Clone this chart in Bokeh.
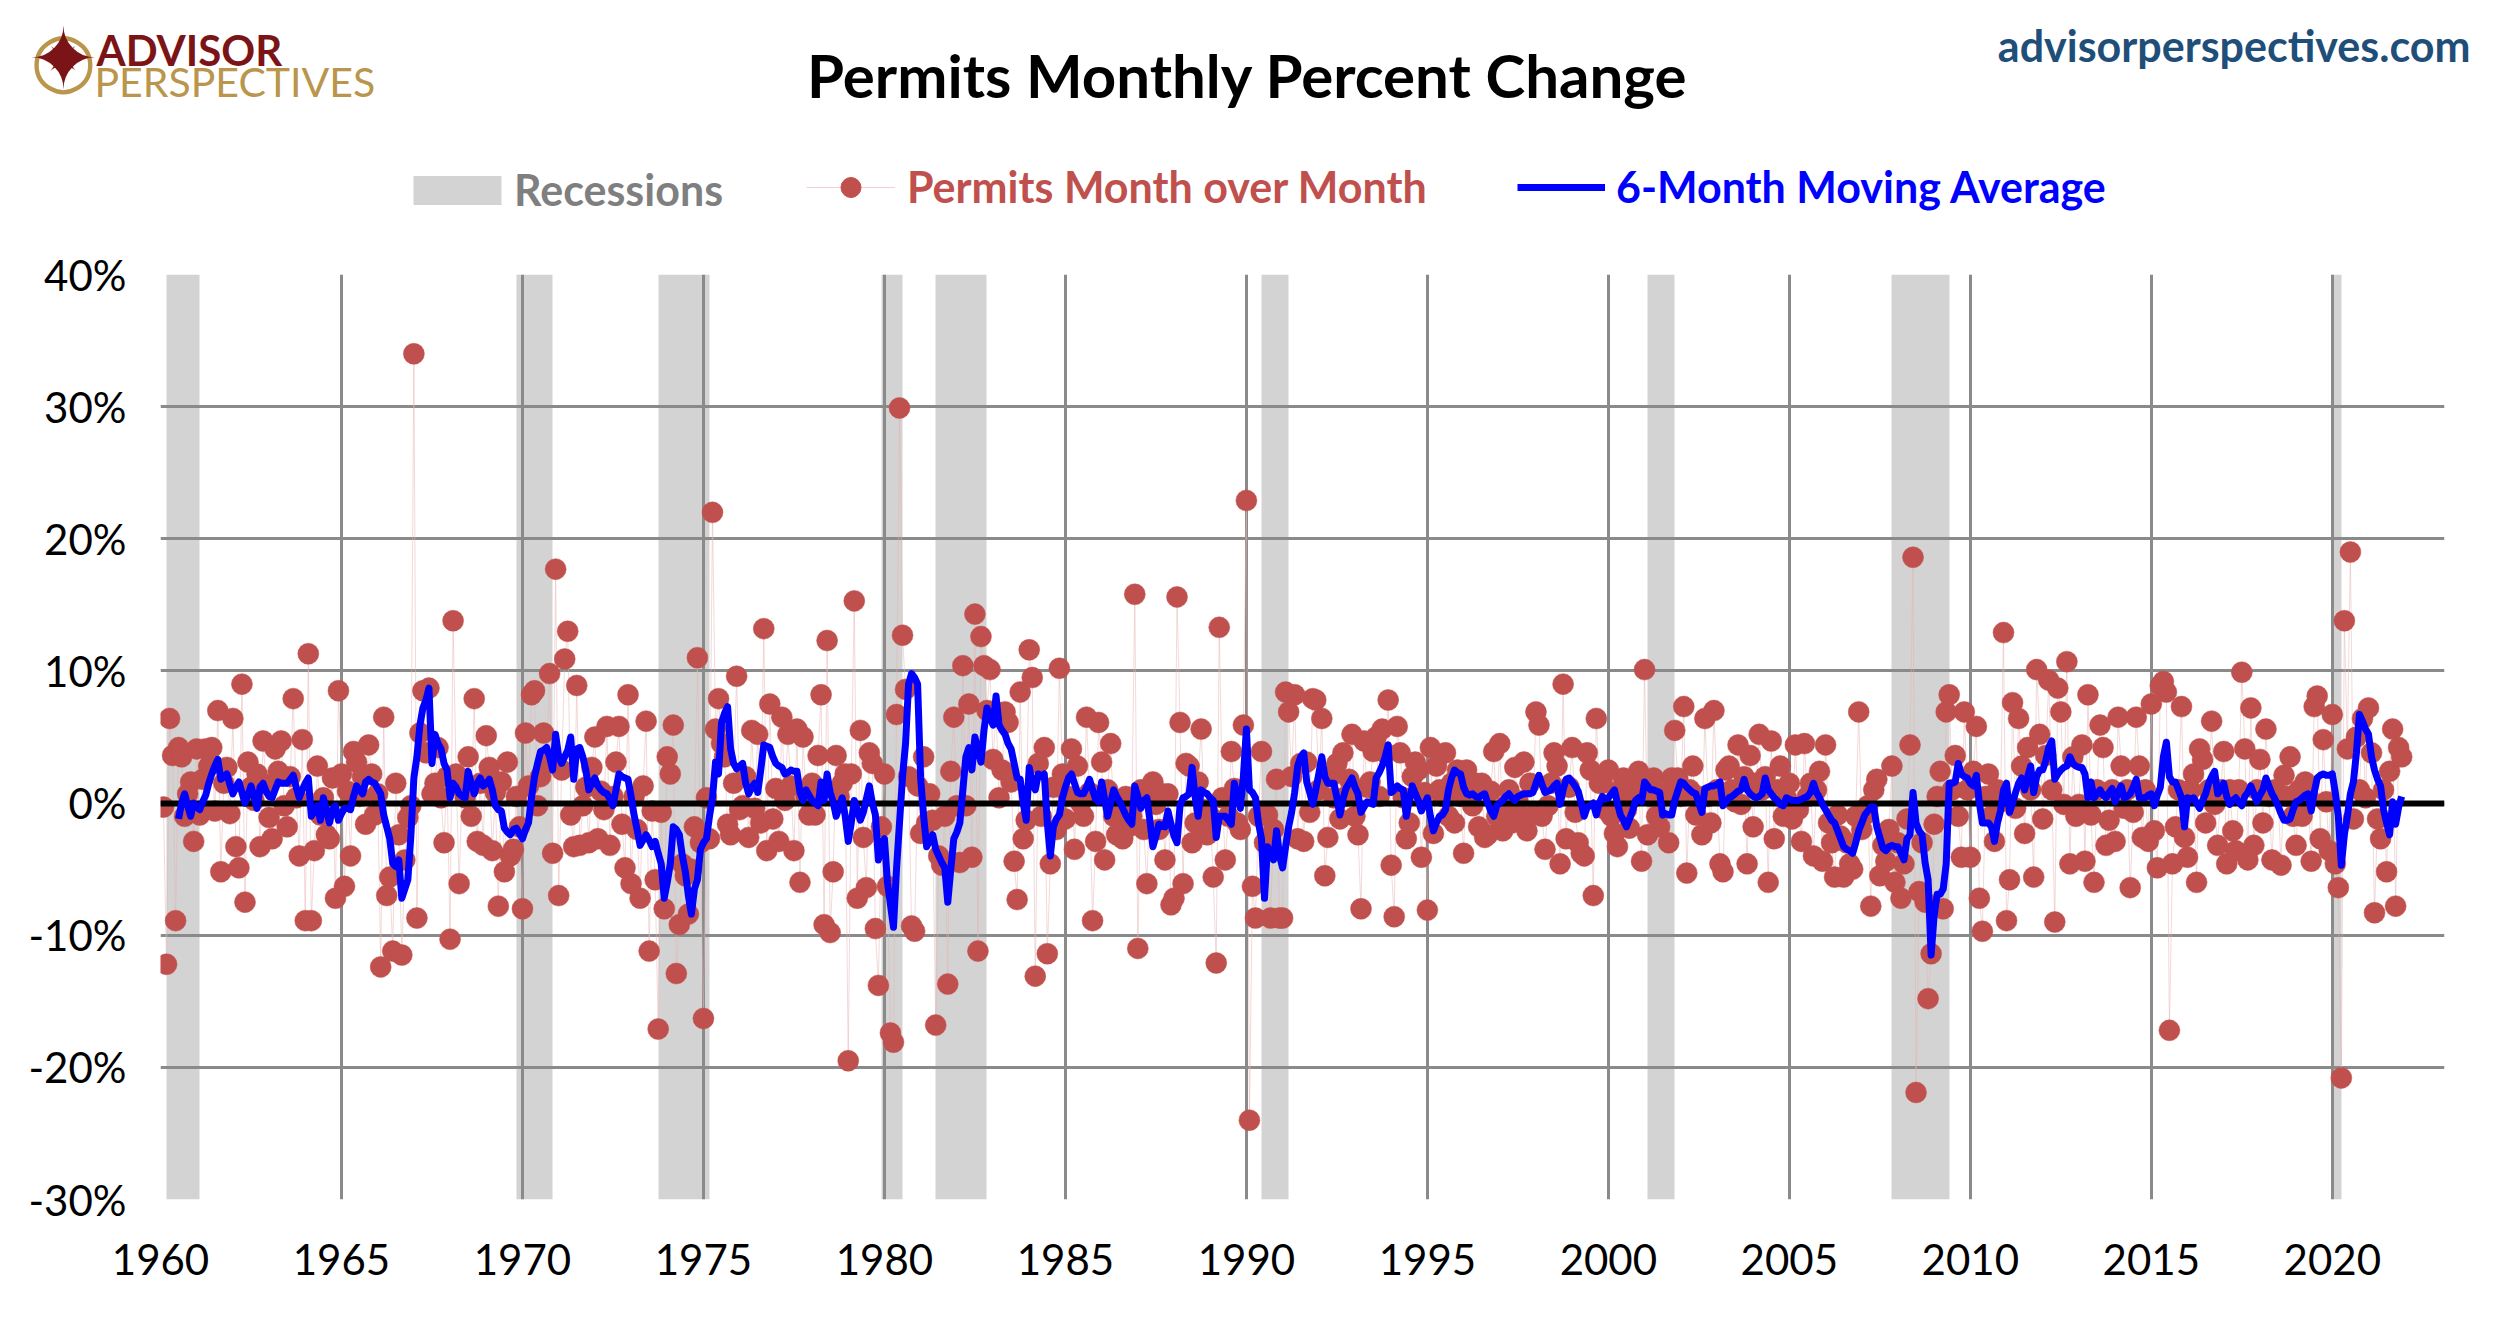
from bokeh.plotting import figure
from bokeh.layouts import column
from bokeh.models import Range1d, FixedTicker, PrintfTickFormatter, Label, Legend, LegendItem
from bokeh.embed import file_html
from bokeh.resources import INLINE

# Permits, month-over-month % change (Feb 1960 - Dec 2021), one row per year
mom_1960s = [
    -0.3, -12.2, 6.4, 3.6, -8.9, 4.2, 3.5, -1.0, 0.7, 1.6, -2.9,      # 1960 (from Feb)
    4.1, -0.9, 1.8, 4.1, 2.8, 4.2, -0.6, 7.0, -5.2, 1.5, 2.7, -0.8,   # 1961
    6.4, -3.3, -4.9, 9.0, -7.5, 3.1, 1.2, 0.2, 2.2, -3.3, 4.7, 1.4,   # 1962
    -1.1, -2.7, 4.1, 2.4, 4.7, -0.2, -1.8, 2.0, 7.9, 0.4, -4.0, 4.8,  # 1963
    -8.9, 11.3, -8.9, -3.6, 2.8, -0.9, 0.4, -2.4, -2.7, 1.9, -7.2, 8.5,  # 1964
    2.2, -6.3, 0.9, -4.0, 3.9, 3.1, 0.5, 2.0, -1.6, 4.4, 2.2, -0.9,   # 1965
    0.7, -12.4, 6.5, -7.0, -5.6, -11.2, 1.5, -2.4, -11.5, -4.3, -1.1, -0.2,  # 1966
    34.0, -8.7, 5.3, 8.5, 3.8, 8.7, 0.7, 1.5, 4.2, 0.4, -3.0, 2.0,    # 1967
    -10.3, 13.8, 2.2, -6.1, 1.1, 0.4, 3.5, -1.0, 7.9, -2.9, 1.5, -3.2,  # 1968
    5.1, 2.7, -3.6, 0.8, -7.8, 1.6, -5.2, 3.1, -4.0, -3.5, 0.5, -1.8,  # 1969
]
mom_1970s = [
    -8.0, 5.3, 1.3, 8.2, 8.5, -0.2, 2.0, 5.3, 3.1, 9.8, -3.8, 17.7,   # 1970
    -7.0, 2.5, 10.9, 13.0, -0.9, -3.3, 8.9, -3.2, -0.2, 1.2, -3.0, 2.7,  # 1971
    5.0, -2.7, 0.9, -0.5, 5.8, -3.2, 0.5, 3.1, 5.8, -1.6, -4.9, 8.2,  # 1972
    -6.1, 0.5, -2.0, -7.2, 1.3, 6.2, -11.2, -0.6, -5.8, -17.1, -0.7, -8.0,  # 1973
    3.5, 2.2, 5.9, -12.9, -9.2, -4.6, -5.5, -8.4, -5.0, -1.8, 11.0, -3.0,  # 1974
    -16.3, 0.4, -2.7, 22.0, 5.6, 7.9, 4.5, 3.5, -1.6, -2.4, 1.5, 9.6,  # 1975
    -0.5, -0.2, 2.0, -2.6, 5.5, -0.4, 5.2, -1.5, 13.2, -3.6, 7.5, -1.2,  # 1976
    1.1, -2.9, 6.5, 0.2, 5.2, 1.3, -3.6, 5.6, -6.0, 5.0, 0.5, -0.9,   # 1977
    1.5, -0.9, 3.6, 8.2, -9.2, 12.3, -9.8, -5.2, 3.6, 0.5, 1.5, 2.2,  # 1978
    -19.5, 2.2, 15.3, -7.2, 5.5, -2.6, -6.4, 3.8, 3.0, -9.5, -13.8, -1.8,  # 1979
]
mom_1980s = [
    2.2, -6.3, -17.4, -18.1, 6.7, 29.9, 12.7, 8.6, 2.0, -9.3, -9.7, 1.3,  # 1980
    -2.3, 3.5, -1.5, 0.7, -1.3, -16.8, -4.0, -4.7, -1.0, -13.7, 2.4, 6.5,  # 1981
    -0.2, -4.5, 10.4, -0.2, 7.5, -4.1, 14.3, -11.2, 12.6, 10.4, 7.0, 10.1,  # 1982
    3.3, 6.9, 0.4, 2.5, 6.9, 6.1, 1.6, -4.4, -7.3, 8.4, -2.7, -1.3,   # 1983
    11.6, 9.5, -13.1, 3.0, -1.0, 4.2, -11.4, -4.6, 1.2, -2.0, 10.2, 2.2,  # 1984
    -1.2, 0.5, 4.1, -3.5, 2.8, 0.0, -1.0, 6.5, 0.8, -8.9, -2.9, 6.1,  # 1985
    3.1, -4.3, 1.0, 4.5, -1.0, -2.4, -0.4, -2.7, 0.5, -1.8, -1.0, 15.8,  # 1986
    -11.0, 1.0, -2.0, -6.1, 0.5, 1.6, -0.1, -2.0, 0.7, -4.3, 0.7, -7.7,  # 1987
    -7.2, 15.6, 6.1, -6.1, 3.0, 2.8, -3.0, -1.5, 1.6, 5.6, -0.5, -2.4,  # 1988
    -1.0, -5.6, -12.1, 13.3, 0.4, -4.3, -1.0, 3.9, 1.1, -1.5, -2.0, 5.9,  # 1989
]
mom_1990s = [
    22.9, -24.0, -6.3, -8.7, -1.0, 3.9, -3.0, -0.9, -8.7, -2.0, 1.8, -8.7,  # 1990
    -8.7, 8.4, 6.9, 2.0, 8.2, -2.7, 3.0, -2.9, 3.1, -0.7, 7.9, 7.8,   # 1991
    1.0, 6.4, -5.5, -2.6, 2.0, 0.4, 3.0, -1.2, 3.8, 0.5, 1.8, 5.2,    # 1992
    -1.0, -2.4, -8.0, 4.7, 1.2, 1.6, 3.9, 5.0, 0.5, 5.6, 3.8, 7.8,    # 1993
    -4.7, -8.6, 5.8, 3.8, 0.4, -2.7, -1.5, 2.0, 3.1, 2.5, -4.1, 0.8,  # 1994
    -8.1, 4.2, -2.3, 2.8, 1.0, 0.5, 3.8, -1.0, 1.5, -1.5, 2.5, 0.5,   # 1995
    -3.8, 2.5, 1.1, -0.2, 1.5, -1.8, 1.5, -2.6, -2.4, 0.9, 3.9, -1.0,  # 1996
    4.5, -2.1, -0.2, 1.0, -1.5, 2.7, 0.2, -1.0, 3.1, -2.1, 1.5, -0.9,  # 1997
    6.9, 5.9, -1.0, -3.5, -0.2, 1.5, 3.8, 2.8, -4.6, 9.0, -2.7, 1.2,  # 1998
    4.2, -0.7, -3.0, -3.8, -4.0, 3.8, 2.5, -7.0, 6.4, 1.5, 1.5, -0.5,  # 1999
]
mom_2000s = [
    2.5, -1.0, -2.3, -3.3, 1.0, 1.9, -0.5, -1.9, 0.4, 1.0, 2.4, -4.4,  # 2000
    10.1, -2.4, 0.5, 1.9, -1.0, -1.8, 0.5, 0.7, -3.0, 1.9, 5.5, 1.9,   # 2001
    0.5, 7.3, -5.3, 1.0, 2.8, -0.9, 0.5, -2.4, 6.4, 0.5, -1.5, 7.0,    # 2002
    1.0, -4.6, -5.2, 2.5, 2.8, 1.0, 0.1, 4.4, -0.1, 2.0, -4.6, 3.6,    # 2003
    -1.8, 1.5, 5.2, 1.0, 2.0, -6.0, 4.7, -2.7, 1.0, 2.8, -1.0, 0.4,    # 2004
    1.5, -1.2, 4.4, -0.5, -2.9, 4.5, 0.5, 1.5, -4.0, 1.0, 2.4, -4.4,   # 2005
    4.4, -1.5, -3.0, -5.6, -0.9, -2.5, -5.6, -3.0, -4.6, -5.0, -1.0, 6.9,  # 2006
    -2.0, -0.9, -0.2, -7.8, 1.0, 1.8, -5.5, -3.2, -4.4, -2.0, 2.8, -6.0,  # 2007
    -3.0, -7.2, -4.6, -1.2, 4.4, 18.6, -21.9, -6.7, -3.0, -7.5, -14.8, -11.4,  # 2008
    -1.6, 0.5, 2.4, -8.0, 6.9, 8.2, 1.0, 3.6, -1.0, -4.1, 6.9, 1.0,    # 2009
]
mom_2010s = [
    -4.1, 2.4, 5.8, -7.2, -9.7, 0.5, 2.2, -1.0, -2.9, 1.0, 0.1, 12.9,  # 2010
    -8.9, -5.8, 7.6, -0.4, 6.4, 2.8, -2.3, 4.2, 1.0, -5.6, 10.1, 5.2,  # 2011
    -1.2, 3.6, 9.3, 1.0, -9.0, 8.7, 6.9, -0.1, 10.7, -4.6, 3.5, -1.0,  # 2012
    -0.1, 4.4, -4.4, 8.2, -0.9, -6.0, 1.0, 5.9, 4.2, -3.2, -1.3, 1.0,  # 2013
    -2.9, 6.5, 2.8, -0.4, 1.0, -6.4, -0.7, 6.5, 2.8, -2.6, 1.0, -2.9,  # 2014
    7.5, -2.1, -4.9, 8.9, 9.2, 8.4, -17.2, -4.6, -1.8, 1.0, 7.3, -2.6,  # 2015
    -4.1, 1.0, 2.2, -6.0, 4.1, 3.3, -1.5, 1.0, 6.2, -0.1, -3.2, 1.0,   # 2016
    3.9, -4.6, 1.0, -2.1, -3.6, 1.0, 9.9, 4.1, -4.3, 7.2, -3.2, 1.0,   # 2017
    3.3, -1.5, 5.6, 0.5, -4.3, 1.0, 0.7, -4.7, 2.1, 0.5, 3.5, -1.0,    # 2018
    -3.2, 1.0, -1.0, 1.6, 0.5, -4.4, 7.3, 8.1, -2.7, 4.8, 0.1, -3.6,   # 2019
]
mom_2020s = [
    6.7, -4.6, -6.4, -20.8, 13.8, 4.1, 19.0, -1.2, 5.0, 1.0, 6.4, 0.4,  # 2020
    7.2, 3.8, -8.3, -1.2, -2.7, 1.0, -5.2, 2.4, 5.6, -7.8, 4.2, 3.5,    # 2021
]

# 6-month moving average (Jul 1960 - Dec 2021), one row per year
ma_1960s = [
    -1.2, 0.0, 0.7, -0.2, -1.0, 0.0,                                   # 1960 (from Jul)
    -0.3, -0.5, 0.1, 0.6, 1.5, 2.2, 2.8, 3.3, 1.8, 2.0, 2.2, 1.4,      # 1961
    0.7, 1.2, 1.6, 0.8, 0.0, 0.6, 1.3, 0.5, -0.4, 1.2, 1.5, 0.9,       # 1962
    0.5, 0.4, 1.0, 1.6, 1.5, 1.5, 1.5, 1.8, 2.1, 1.2, 0.4, 1.0,        # 1963
    1.5, 1.9, -1.0, -0.6, -0.2, -1.3, 0.4, -0.5, -1.5, -0.5, -0.2, -1.3,  # 1964
    -0.8, -0.4, -0.4, -0.5, 0.5, 1.3, 1.0, 0.7, 1.6, 1.8, 1.6, 1.5,    # 1965
    1.1, 0.7, -0.9, -1.8, -2.7, -4.6, -4.8, -4.3, -7.2, -6.5, -5.8, -2.5,  # 1966
    1.9, 3.5, 5.9, 7.2, 7.8, 8.7, 3.0, 5.2, 4.5, 4.1, 3.0, 2.5,        # 1967
    0.4, 1.5, 1.2, 0.7, 0.5, 0.4, 2.4, 1.5, 0.7, 1.5, 1.9, 1.3,        # 1968
    1.5, 1.8, 1.0, -0.2, -0.5, -0.6, -1.9, -2.2, -2.4, -2.0, -1.9, -2.3,  # 1969
]
ma_1970s = [
    -2.7, -2.0, -1.5, 0.4, 2.0, 3.0, 3.9, 4.0, 4.2, 3.5, 2.5, 5.2,     # 1970
    3.5, 3.0, 3.5, 4.0, 5.0, 1.8, 4.1, 4.2, 3.5, 2.5, 1.0, 1.5,        # 1971
    1.9, 1.3, 1.0, 0.8, 0.7, 0.3, -0.2, 1.0, 2.2, 2.0, 1.9, 1.8,       # 1972
    0.5, -0.9, -2.0, -3.2, -2.8, -2.4, -2.8, -3.3, -2.9, -3.8, -4.6, -7.2,  # 1973
    -6.0, -4.6, -1.8, -2.0, -2.4, -4.0, -5.2, -7.0, -8.4, -6.5, -5.8, -3.5,  # 1974
    -3.0, -2.7, -1.0, 0.4, 3.1, 2.2, 6.1, 6.8, 7.3, 4.1, 3.0, 2.6,     # 1975
    2.8, 3.0, 1.5, 0.7, 1.2, 1.5, 0.8, 2.5, 4.4, 4.3, 4.2, 3.5,        # 1976
    3.0, 2.8, 2.7, 2.2, 2.3, 2.5, 2.4, 2.4, 0.8, 0.2, 1.0, 0.6,        # 1977
    0.2, 0.0, -0.2, 1.6, 0.2, 2.2, 0.8, 0.1, -1.0, -0.3, 0.4, -1.0,    # 1978
    -2.9, -1.5, 0.2, -0.5, -1.3, -0.7, 0.3, 1.3, 0.0, -0.9, -4.3, -3.0,  # 1979
]
ma_1980s = [
    -2.7, -6.0, -7.7, -9.4, -5.0, -1.5, 2.0, 4.5, 9.0, 9.8, 9.5, 9.0,  # 1980
    1.9, -1.0, -3.3, -2.8, -2.4, -3.5, -4.0, -4.5, -4.9, -7.5, -5.0, -2.7,  # 1981
    -2.2, -1.5, 1.0, 3.5, 4.2, 2.5, 5.0, 4.0, 3.1, 5.5, 7.2, 6.5,      # 1982
    5.9, 8.1, 5.9, 5.5, 5.2, 4.5, 4.1, 3.0, 1.9, 1.8, 0.0, -1.3,       # 1983
    2.7, 1.5, 1.0, 2.2, 2.0, 2.2, -1.5, -4.0, -1.8, -1.2, -0.9, 0.4,   # 1984
    1.2, 1.9, 2.2, 1.5, 0.8, 0.7, 0.7, 1.2, 1.8, 1.0, 0.3, 0.1,        # 1985
    1.6, 0.3, -1.0, 0.0, 1.0, 0.5, 0.1, -0.4, -0.9, -1.3, -1.6, 1.3,   # 1986
    0.5, -0.4, 0.2, 0.4, -1.3, -3.3, -2.5, -1.6, -1.7, -1.8, -0.6, -1.6,  # 1987
    -2.5, -3.0, -0.2, 0.4, 0.5, 0.7, 2.7, 0.5, -1.0, 1.0, 0.8, 0.7,    # 1988
    0.4, 0.2, -2.6, -1.0, -1.0, -1.0, -1.3, -1.6, 1.5, 0.5, -0.4, 2.0,  # 1989
]
ma_1990s = [
    5.6, 1.0, 0.8, 0.4, -1.5, -2.7, -7.2, -3.3, -3.8, -4.3, -2.1, -4.0,  # 1990
    -4.9, -3.3, -1.8, -0.7, 0.8, 2.8, 3.5, 3.8, 1.6, 0.8, -0.1, 1.0,   # 1991
    2.2, 3.5, 2.0, 1.5, 1.5, 1.5, 0.4, -0.9, 0.3, 1.1, 1.5, 1.9,       # 1992
    1.2, 0.7, -0.7, -0.3, 0.1, 0.0, -0.1, 1.9, 2.3, 2.8, 3.5, 4.4,     # 1993
    0.8, 1.0, 1.3, 1.1, 1.0, -1.0, 0.2, 1.3, 0.7, 0.2, -0.6, -0.1,     # 1994
    0.4, -1.0, -2.1, -1.5, -1.0, -0.9, -0.5, 1.0, 1.9, 2.5, 2.3, 2.2,  # 1995
    1.2, 0.7, 0.6, 0.7, 0.5, 0.4, 0.6, 0.7, 0.0, -0.6, -1.0, -0.2,     # 1996
    0.0, 0.2, 0.5, 0.7, 0.4, 0.2, 0.5, 0.6, 0.7, 0.7, 0.7, 0.8,        # 1997
    1.5, 2.1, 1.4, 0.8, 0.9, 1.0, 1.3, 1.5, -0.1, 1.0, 1.8, 1.9,       # 1998
    1.6, 1.3, 0.9, 0.0, -1.0, -0.3, -0.2, 0.0, -0.9, 0.0, 0.5, 0.3,    # 1999
]
ma_2000s = [
    0.4, 0.7, 1.0, 0.0, -0.9, -1.3, -1.8, -1.2, -0.6, 0.2, 0.4, 0.1,   # 2000
    1.6, 1.3, 1.0, 1.0, 0.9, 0.8, -0.9, -0.8, -0.9, -0.9, 0.2, 0.9,    # 2001
    1.6, 1.5, 1.2, 1.0, 0.8, 0.7, 0.0, -0.7, 1.1, 1.2, 1.3, 1.3,       # 2002
    1.4, 1.6, -0.2, 0.1, 0.4, 0.5, 0.7, 0.9, 1.0, 1.8, 1.0, 0.7,       # 2003
    0.5, 0.4, 0.5, 0.7, 1.9, 1.0, 0.7, 0.4, 0.2, -0.1, -0.2, 0.4,      # 2004
    0.3, 0.2, 0.2, 0.2, 0.3, 0.4, 0.5, 0.8, 1.5, 0.8, 0.4, -0.1,       # 2005
    -0.5, -0.9, -1.3, -1.5, -2.1, -2.7, -3.3, -3.5, -3.6, -3.8, -3.0, -2.1,  # 2006
    -1.5, -0.9, -0.6, -0.3, -0.3, -1.8, -2.6, -3.4, -3.6, -3.3, -3.2, -3.3,  # 2007
    -3.3, -3.8, -4.3, -2.7, -2.4, 0.8, -1.5, -2.1, -2.4, -4.5, -5.8, -11.5,  # 2008
    -8.5, -6.9, -6.9, -6.5, -4.6, 1.5, 1.5, 1.6, 3.0, 2.2, 2.0, 1.9,   # 2009
]
ma_2010s = [
    1.5, 1.3, 2.1, 0.0, -1.5, -1.5, -1.5, -1.8, -2.9, -1.5, -0.6, 1.0,  # 2010
    1.5, -0.7, 0.0, 0.8, 1.5, 1.9, 1.0, 2.0, 2.8, 0.8, 2.0, 2.5,       # 2011
    2.5, 3.2, 4.2, 4.7, 1.8, 2.2, 2.5, 2.7, 2.8, 3.5, 3.0, 2.8,        # 2012
    2.7, 2.7, 2.2, 0.4, 1.6, 0.4, 0.7, 1.0, 0.6, 0.4, 0.8, 1.1,        # 2013
    0.1, 0.8, 1.3, 0.4, 0.5, 0.7, 1.2, 1.8, 0.4, 0.4, 0.4, 0.6,        # 2014
    0.7, -0.2, 0.6, 1.2, 3.5, 4.6, 2.0, 1.6, 1.6, 1.0, 0.4, -1.8,      # 2015
    0.4, 0.3, 0.4, 0.0, -0.4, 0.2, 0.7, 1.5, 2.0, 2.4, 0.7, 1.0,       # 2016
    1.5, 0.5, -0.1, 0.2, 0.4, 0.1, -0.2, 0.5, 0.8, 1.3, 0.7, 0.1,      # 2017
    0.6, 1.0, 1.9, 1.3, 0.7, 0.3, -0.2, -0.8, -1.3, -1.3, -1.2, -0.5,  # 2018
    0.1, 0.2, 0.4, 0.6, 0.7, -0.6, 0.8, 1.9, 2.1, 2.2, 2.1, 2.1,       # 2019
]
ma_2020s = [
    2.2, 0.8, -1.0, -4.7, -2.4, -1.0, 0.7, 1.6, 3.8, 6.7, 6.2, 5.6,    # 2020
    5.2, 3.5, 2.5, 1.8, 1.3, -0.5, -1.5, -2.4, 0.1, -1.6, -0.3, 0.5,   # 2021
]

# shaded recession months (first and last shaded month)
rec_start = ["1960-03", "1969-11", "1973-10", "1979-12", "1981-06",
             "1990-06", "2001-02", "2007-11", "2020-01"]
rec_end = ["1961-02", "1970-11", "1975-03", "1980-07", "1982-11",
           "1991-03", "2001-11", "2009-06", "2020-04"]

year_ticks = [1960, 1965, 1970, 1975, 1980, 1985, 1990, 1995, 2000, 2005, 2010, 2015, 2020]
pct_ticks = [-30, -20, -10, 0, 10, 20, 30, 40]


def dec_year(s):
    y, m = s.split("-")
    return int(y) + (int(m) - 1) / 12


mom = mom_1960s + mom_1970s + mom_1980s + mom_1990s + mom_2000s + mom_2010s + mom_2020s
ma = ma_1960s + ma_1970s + ma_1980s + ma_1990s + ma_2000s + ma_2010s + ma_2020s
x_mom = [1960 + (i + 1) / 12 for i in range(len(mom))]   # first value is Feb 1960
x_ma = [1960 + (i + 6) / 12 for i in range(len(ma))]     # first average is Jul 1960
rec_x0 = [dec_year(s) for s in rec_start]
rec_x1 = [dec_year(s) for s in rec_end]

FONT = "Lato"
RED = "#C0504D"
BLUE = "#0000FF"
REC_GREY = "#D3D3D3"
W = 2488
HEAD_H = 244

# ---------------- main chart ----------------
p = figure(width=W, height=1063, x_range=Range1d(1960, 2023.1), y_range=Range1d(-30, 40),
           output_backend="svg", toolbar_location=None, title=None,
           min_border_left=160, min_border_right=44, min_border_top=30, min_border_bottom=108)
p.outline_line_color = None
p.frame_align = False

p.vstrip(x0=rec_x0, x1=rec_x1, fill_color=REC_GREY, line_color=None, level="image")
p.line(x_mom, mom, line_color="#E8B4B3", line_alpha=0.5, line_width=1)
p.scatter(x_mom, mom, size=21, fill_color=RED, line_color=RED, line_width=0.5)
p.hspan(y=[0], line_color="black", line_width=6)
p.line(x_ma, ma, line_color=BLUE, line_width=7, line_join="round")

for ax in (p.xaxis[0], p.yaxis[0]):
    ax.axis_line_color = None
    ax.major_tick_line_color = None
    ax.minor_tick_line_color = None
    ax.major_label_text_font = FONT
    ax.major_label_text_font_size = "42px"
    ax.major_label_text_color = "black"
p.xaxis.ticker = FixedTicker(ticks=year_ticks)
p.yaxis.ticker = FixedTicker(ticks=pct_ticks)
p.yaxis.formatter = PrintfTickFormatter(format="%d%%")
p.xaxis.major_label_standoff = 38
p.yaxis.major_label_standoff = 28
for g in (p.xgrid[0], p.ygrid[0]):
    g.grid_line_color = "#8A8A8A"
    g.grid_line_width = 3

# ---------------- header: logo, title, legend ----------------
h = figure(width=W, height=HEAD_H, x_range=Range1d(0, W), y_range=Range1d(HEAD_H, 0),
           output_backend="svg", toolbar_location=None, title=None,
           x_axis_type=None, y_axis_type=None, min_border=0)
h.outline_line_color = None
h.frame_align = False
h.xgrid.visible = False
h.ygrid.visible = False

# hidden copies of the chart's renderers, used only as legend keys
k_rec = h.vstrip(x0=rec_x0, x1=rec_x1, fill_color=REC_GREY, line_color=None, visible=False)
k_conn = h.line(x_mom, mom, line_color="#E8B4B3", line_alpha=0.6, line_width=1, visible=False)
k_dots = h.scatter(x_mom, mom, size=21, fill_color=RED, line_color=RED, visible=False)
k_avg = h.line(x_ma, ma, line_color=BLUE, line_width=7, visible=False)


def add_legend(label, renderers, color, x, y, gw, gh, standoff):
    leg = Legend(items=[LegendItem(label=label, renderers=renderers)], location=(x, y),
                 border_line_color=None, background_fill_alpha=0, padding=0, margin=0,
                 glyph_width=gw, glyph_height=gh, label_standoff=standoff,
                 label_text_font=FONT, label_text_font_style="bold",
                 label_text_font_size="43px", label_text_color=color)
    h.add_layout(leg, "center")


add_legend("Recessions", [k_rec], "#7F7F7F", 402, 29, 110, 36, 2)
add_legend("Permits Month over Month", [k_conn, k_dots], RED, 806, 32, 89, 50, 12)
add_legend("6-Month Moving Average", [k_avg], BLUE, 1517, 32, 88, 50, 11)

h.add_layout(Label(x=1247, y=74, text="Permits Monthly Percent Change", text_font=FONT,
                   text_font_style="bold", text_font_size="60px", text_align="center",
                   text_baseline="alphabetic", text_color="black"))
h.add_layout(Label(x=2470, y=45, text="advisorperspectives.com", text_font=FONT,
                   text_font_style="bold", text_font_size="43px", text_align="right",
                   text_baseline="alphabetic", text_color="#1F4E79"))
h.add_layout(Label(x=96, y=49, text="ADVISOR", text_font=FONT, text_font_style="bold",
                   text_font_size="42px", text_baseline="alphabetic", text_color="#7B1416"))
h.add_layout(Label(x=94, y=81, text="PERSPECTIVES", text_font=FONT, text_font_size="41px",
                   text_baseline="alphabetic", text_color="#B9964B"))
h.add_layout(Label(x=63, y=58, text="○", text_font="DejaVu Sans", text_font_size="76px",
                   text_align="center", text_baseline="middle", text_color="#B9964B"))
h.add_layout(Label(x=63, y=58, text="✦", text_font="DejaVu Sans", text_font_size="48px",
                   text_align="center", text_baseline="middle", text_color="#7B1416",
                   angle=0.785))
h.add_layout(Label(x=63, y=58, text="✦", text_font="DejaVu Sans", text_font_size="84px",
                   text_align="center", text_baseline="middle", text_color="#7B1416"))

page = column(h, p, spacing=0)
open("out.html", "w").write(file_html(page, INLINE))
